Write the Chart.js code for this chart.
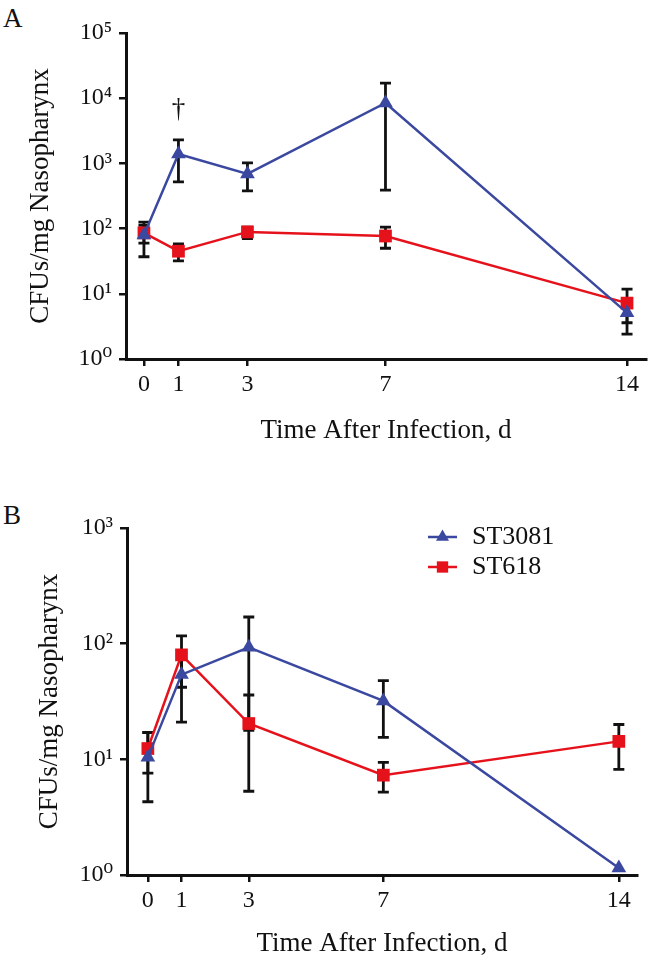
<!DOCTYPE html>
<html>
<head>
<meta charset="utf-8">
<script src="https://cdn.jsdelivr.net/npm/chart.js@4.4.1/dist/chart.umd.min.js"></script>
<style>
  html, body { margin: 0; padding: 0; background: #fff; overflow: hidden; }
  body { width: 655px; height: 956px; position: relative; font-family: 'Liberation Serif', 'DejaVu Serif', serif; }
  .panel-letter { position: absolute; left: 3px; font-size: 27px; line-height: 27px; color: #111; }
  canvas { position: absolute; left: 0; }
</style>
</head>
<body>
<div class="panel-letter" style="top:5px">A</div>
<canvas id="chartA" width="655" height="460" style="top:0"></canvas>
<div class="panel-letter" style="top:502px">B</div>
<canvas id="chartB" width="655" height="500" style="top:460px"></canvas>
<script>
  const days = [0, 1, 3, 7, 14];
  const xTicks = [0, 1, 3, 7, 14];
  const seriesNames = ["ST3081", "ST618"];

  // panel A
  const yTicksA = [1, 10, 100, 1000, 10000, 100000];
  const a3081 = [80, 1390, 690, 8450, 5.1];
  const a3081Lo = [37, 520, 380, 390, 3.6];
  const a3081Hi = [126, 2290, 1020, 17000, 7.2];
  const a618 = [86, 45, 89, 77, 7.2];
  const a618Lo = [60, 32, 70, 50, 2.4];
  const a618Hi = [112, 58, 105, 105, 11.8];
  const daggerA = { x: 1, y: 6600, text: "†" };

  // panel B
  const yTicksB = [1, 10, 100, 1000];
  const b3081 = [10.4, 54, 93, 32, 1.15];
  const b3081Lo = [4.3, 21, 17.8, 15.5, null];
  const b3081Hi = [17, 87, 170, 48, null];
  const b618 = [12.4, 80, 20.4, 7.3, 14.3];
  const b618Lo = [7.6, 42, 5.3, 5.2, 8.2];
  const b618Hi = [17.1, 117, 36, 9.4, 20];

  const ink = "#111111";
  const blue = "#3B48A0";
  const red = "#E6121B";
  const serif = "'Liberation Serif', 'DejaVu Serif', serif";
  const sup = ["⁰", "¹", "²", "³", "⁴", "⁵"];

  const toPoints = (vals) => days.map((d, i) => ({ x: d, y: vals[i] }));

  // vertical error bars with caps, drawn under the markers
  const errorBars = {
    id: "errorBars",
    beforeDatasetsDraw(chart) {
      const { ctx, scales: { x, y } } = chart;
      ctx.save();
      ctx.strokeStyle = ink;
      ctx.lineWidth = 2.8;
      chart.data.datasets.forEach((ds) => {
        days.forEach((d, i) => {
          const lo = ds.errLo[i], hi = ds.errHi[i];
          if (lo == null || hi == null) return;
          const px = x.getPixelForValue(d);
          const yl = y.getPixelForValue(lo);
          const yh = y.getPixelForValue(hi);
          ctx.beginPath();
          ctx.moveTo(px, yl); ctx.lineTo(px, yh);
          ctx.moveTo(px - 5.5, yl); ctx.lineTo(px + 5.5, yl);
          ctx.moveTo(px - 5.5, yh); ctx.lineTo(px + 5.5, yh);
          ctx.stroke();
        });
      });
      ctx.restore();
    },
  };

  // small text notes (dagger) placed through the scales
  const notes = {
    id: "notes",
    afterDraw(chart, args, opts) {
      if (!opts.items) return;
      const { ctx, scales: { x, y } } = chart;
      ctx.save();
      ctx.fillStyle = ink;
      ctx.font = "27px " + serif;
      ctx.textAlign = "center";
      ctx.textBaseline = "middle";
      opts.items.forEach((n) => ctx.fillText(n.text, x.getPixelForValue(n.x), y.getPixelForValue(n.y)));
      ctx.restore();
    },
  };

  // legend with a line through the marker
  const lineLegend = {
    id: "lineLegend",
    afterDraw(chart, args, opts) {
      if (!opts.show) return;
      const { ctx } = chart;
      ctx.save();
      chart.data.datasets.forEach((ds, i) => {
        const yy = opts.top + i * opts.gap;
        ctx.strokeStyle = ds.borderColor;
        ctx.lineWidth = 2.5;
        ctx.beginPath();
        ctx.moveTo(opts.left, yy);
        ctx.lineTo(opts.left + opts.lineLen, yy);
        ctx.stroke();
        ctx.fillStyle = ds.backgroundColor;
        Chart.helpers.drawPoint(ctx, { pointStyle: ds.pointStyle, rotation: 0, radius: ds.pointRadius - 1, borderWidth: 0 },
          opts.left + opts.lineLen / 2, yy);
        ctx.fillStyle = ink;
        ctx.font = "26px " + serif;
        ctx.textAlign = "left";
        ctx.textBaseline = "middle";
        ctx.fillText(ds.label, opts.left + opts.lineLen + 15, yy);
      });
      ctx.restore();
    },
  };

  const makePanel = (id, cfg) => new Chart(document.getElementById(id), {
    type: "line",
    data: {
      datasets: [
        {
          label: seriesNames[0],
          data: toPoints(cfg.s1),
          errLo: cfg.s1Lo,
          errHi: cfg.s1Hi,
          borderColor: blue,
          backgroundColor: blue,
          borderWidth: 2.5,
          pointStyle: "triangle",
          pointRadius: 8.5,
          pointBorderWidth: 0,
        },
        {
          label: seriesNames[1],
          data: toPoints(cfg.s2),
          errLo: cfg.s2Lo,
          errHi: cfg.s2Hi,
          borderColor: red,
          backgroundColor: red,
          borderWidth: 2.5,
          pointStyle: "rect",
          pointRadius: 9,
          pointBorderWidth: 0,
        },
      ],
    },
    options: {
      responsive: false,
      animation: false,
      layout: { padding: { top: cfg.padTop, right: cfg.padRight, bottom: 0, left: 0 } },
      scales: {
        x: {
          type: "linear",
          min: cfg.xMin,
          max: cfg.xMax,
          afterBuildTicks: (s) => { s.ticks = xTicks.map((v) => ({ value: v })); },
          afterFit: (s) => { s.height = cfg.xHeight; },
          grid: { drawOnChartArea: false, drawTicks: true, tickLength: 7, color: ink, lineWidth: 2.5 },
          border: { color: ink, width: 3 },
          ticks: { color: ink, font: { family: serif, size: 24 }, padding: 4, maxRotation: 0, autoSkip: false },
          title: {
            display: true,
            text: "Time After Infection, d",
            color: ink,
            font: { family: serif, size: 27 },
            padding: { top: 0, bottom: cfg.xTitlePad },
          },
        },
        y: {
          type: "logarithmic",
          min: 1,
          max: cfg.yTicks[cfg.yTicks.length - 1],
          afterBuildTicks: (s) => { s.ticks = cfg.yTicks.map((v) => ({ value: v })); },
          afterFit: (s) => { s.width = cfg.yWidth; },
          grid: { drawOnChartArea: false, drawTicks: true, tickLength: 7, color: ink, lineWidth: 2.5 },
          border: { color: ink, width: 3 },
          ticks: {
            color: ink,
            font: { family: serif, size: 24 },
            padding: 7,
            callback: (v) => "10" + sup[Math.round(Math.log10(v))],
          },
          title: {
            display: true,
            text: "CFUs/mg Nasopharynx",
            color: ink,
            font: { family: serif, size: 27 },
            padding: { top: cfg.yTitlePad, bottom: 0 },
          },
        },
      },
      plugins: {
        legend: { display: false },
        tooltip: { enabled: false },
        notes: { items: cfg.notes },
        lineLegend: cfg.legend,
      },
    },
    plugins: [errorBars, notes, lineLegend],
  });

  window.addEventListener("DOMContentLoaded", () => {
    makePanel("chartA", {
      s1: a3081, s1Lo: a3081Lo, s1Hi: a3081Hi,
      s2: a618, s2Lo: a618Lo, s2Hi: a618Hi,
      yTicks: yTicksA, xMin: -0.52, xMax: 14.55,
      padTop: 33, padRight: 3, yWidth: 126, xHeight: 101,
      xTitlePad: 13, yTitlePad: 25,
      notes: [daggerA],
      legend: { show: false },
    });
    makePanel("chartB", {
      s1: b3081, s1Lo: b3081Lo, s1Hi: b3081Hi,
      s2: b618, s2Lo: b618Lo, s2Hi: b618Hi,
      yTicks: yTicksB, xMin: -0.62, xMax: 14.54,
      padTop: 68, padRight: 18, yWidth: 127, xHeight: 85,
      xTitlePad: 0, yTitlePad: 34,
      notes: [],
      legend: { show: true, left: 428, top: 77, gap: 30, lineLen: 29 },
    });
  });
</script>
</body>
</html>
